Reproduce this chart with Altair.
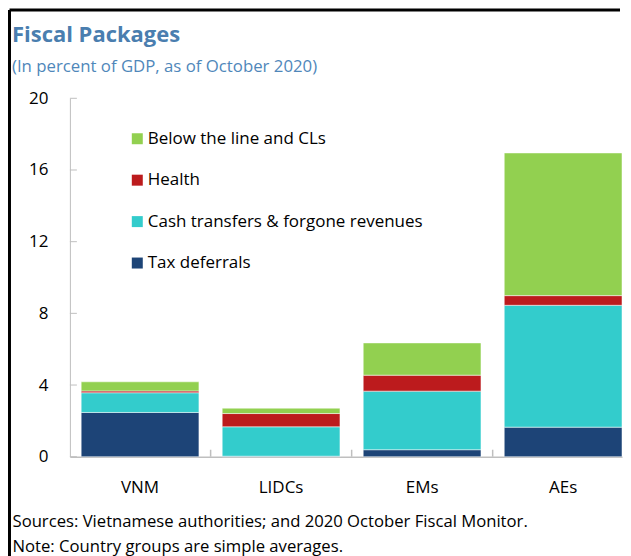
import altair as alt
import pandas as pd

categories = ["VNM", "LIDCs", "EMs", "AEs"]
series = ["Below the line and CLs", "Health", "Cash transfers & forgone revenues", "Tax deferrals"]
tax_deferrals = [2.47, 0.03, 0.39, 1.65]
cash_transfers = [1.10, 1.64, 3.27, 6.80]
health = [0.10, 0.74, 0.89, 0.54]
below_line = [0.51, 0.30, 1.80, 7.96]
colors = ["#92D050", "#BC1B1D", "#33CCCC", "#1D4477"]
y_ticks = [0, 4, 8, 12, 16, 20]
footnotes = ["Sources: Vietnamese authorities; and 2020 October Fiscal Monitor.",
             "Note: Country groups are simple averages."]

rows = []
for i, c in enumerate(categories):
    for s, vals, o in [(series[3], tax_deferrals, 0), (series[2], cash_transfers, 1),
                       (series[1], health, 2), (series[0], below_line, 3)]:
        rows.append({"cat": c, "series": s, "value": vals[i], "ord": o})
df = pd.DataFrame(rows)

W, H = 553, 359
FONT = "Open Sans"
GRAY = "#BFBFBF"
P_INNER = 0.165

xscale = alt.Scale(domain=categories, paddingInner=P_INNER, paddingOuter=0.04, align=1)
yscale = alt.Scale(domain=[0, 20])

bars = alt.Chart(df).mark_bar(stroke="white", strokeWidth=0.5).encode(
    x=alt.X("cat:N", sort=categories, scale=xscale,
            axis=alt.Axis(title=footnotes, titleAnchor="start", titleAlign="left", titleX=-58, titleY=70,
                          titleBaseline="alphabetic", titleFontSize=16.7, titleFontWeight="normal",
                          titleLineHeight=25, titleFont=FONT, titleColor="black",
                          labelAngle=0, labelFont=FONT, labelFontSize=17, labelColor="black",
                          labelPadding=23, ticks=False, domainColor=GRAY, domainWidth=1.5)),
    y=alt.Y("value:Q", stack="zero", scale=yscale,
            axis=alt.Axis(title=None, values=y_ticks, grid=False, ticks=False, labelFont=FONT,
                          labelFontSize=17, labelColor="black", labelPadding=22,
                          domainColor=GRAY, domainWidth=1)),
    color=alt.Color("series:N", scale=alt.Scale(domain=series, range=colors),
                    legend=alt.Legend(title=None, orient="none", legendX=59, legendY=32,
                                      symbolType="square", symbolSize=121, symbolStrokeWidth=0,
                                      labelFont=FONT, labelFontSize=17, labelColor="black",
                                      labelOffset=2, rowPadding=23.5, padding=0, labelLimit=500)),
    order=alt.Order("ord:Q"),
)

# small inward ticks midway between the bars
xticks = alt.Chart(pd.DataFrame({"cat": categories[1:]})).mark_rule(
    color=GRAY, strokeWidth=1.5, xOffset=-11.6).encode(
    x=alt.X("cat:N", sort=categories, scale=xscale, bandPosition=0),
    y=alt.value(H), y2=alt.value(H - 7),
)

yticks = alt.Chart(pd.DataFrame({"value": y_ticks})).mark_rule(color=GRAY, strokeWidth=1).encode(
    y=alt.Y("value:Q", scale=yscale), x=alt.value(0), x2=alt.value(7),
)

one = pd.DataFrame({"a": [0]})
frame_top = alt.Chart(one).mark_rule(color="black", strokeWidth=3).encode(
    x=alt.value(-60.5), x2=alt.value(W - 2), y=alt.value(-88.5))
frame_left = alt.Chart(one).mark_rule(color="black", strokeWidth=3).encode(
    x=alt.value(-60.5), y=alt.value(-88.5), y2=alt.value(H + 105))

chart = alt.layer(frame_top, frame_left, bars, xticks, yticks).properties(
    width=W, height=H, padding=0,
    title=alt.TitleParams(text="Fiscal Packages", subtitle="(In percent of GDP, as of October 2020)",
                          anchor="start", frame="bounds", dx=4, offset=-68,
                          font=FONT, fontSize=22, fontWeight="bold", color="#4A7EAF",
                          subtitleFont=FONT, subtitleFontSize=16.8, subtitleColor="#4F87BA",
                          subtitlePadding=12),
).configure_view(stroke=None)

chart.save("out.html", embed_options={"renderer": "svg", "actions": False})
